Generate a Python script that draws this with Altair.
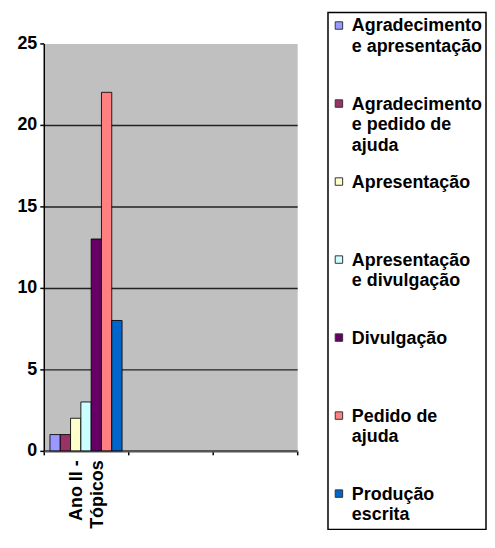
import altair as alt
import pandas as pd

# ---- data ----
x_categories = ["Ano II - Tópicos", " ", "  "]
series = [
    "Agradecimento e apresentação",
    "Agradecimento e pedido de ajuda",
    "Apresentação",
    "Apresentação e divulgação",
    "Divulgação",
    "Pedido de ajuda",
    "Produção escrita",
]
values = [1, 1, 2, 3, 13, 22, 8]
colors = ["#9999FF", "#993366", "#FFFFCC", "#CCFFFF", "#660066", "#FF8080", "#0066CC"]
legend_labels = [
    "Agradecimento|e apresentação",
    "Agradecimento|e pedido de|ajuda",
    "Apresentação",
    "Apresentação|e divulgação",
    "Divulgação",
    "Pedido de|ajuda",
    "Produção|escrita",
]
y_ticks = [0, 5, 10, 15, 20, 25]

FONT = "Liberation Sans"

df = pd.DataFrame({
    "categoria": [x_categories[0]] * len(series),
    "serie": series,
    "valor": values,
})

color_scale = alt.Scale(domain=series, range=colors)

bars = alt.Chart(
    df,
    view=alt.ViewBackground(fill="#C0C0C0", stroke="transparent"),
).mark_bar(stroke="#000000", strokeWidth=1, strokeOpacity=0.85).encode(
    x=alt.X(
        "categoria:N",
        scale=alt.Scale(domain=x_categories, paddingInner=0, paddingOuter=0),
        axis=alt.Axis(
            title=None,
            labelAngle=-90,
            labelAlign="right",
            labelBaseline="middle",
            labelExpr="split(replace(datum.label, ' - ', ' -|'), '|')",
            labelFont=FONT,
            labelFontWeight="bold",
            labelFontSize=18,
            labelLineHeight=22,
            labelColor="#000000",
            labelPadding=5,
            labelOffset=-10,
            tickBand="extent",
            tickSize=4,
            tickColor="#000000",
            tickWidth=1.5,
            domainColor="#555555",
            domainWidth=2.5,
            grid=False,
        ),
    ),
    xOffset=alt.XOffset(
        "serie:N",
        scale=alt.Scale(domain=series, paddingInner=0, paddingOuter=0.6),
    ),
    y=alt.Y(
        "valor:Q",
        scale=alt.Scale(domain=[0, 25], nice=False),
        axis=alt.Axis(
            title=None,
            values=y_ticks,
            labelFont=FONT,
            labelFontWeight="bold",
            labelFontSize=18,
            labelColor="#000000",
            labelPadding=3,
            tickSize=4,
            tickColor="#000000",
            tickWidth=1.5,
            domainColor="#000000",
            domainWidth=1.5,
            grid=True,
            gridColor="#222222",
            gridWidth=1.5,
            gridOpacity={"condition": {"test": "datum.value === 25 || datum.value === 0", "value": 0}, "value": 1},
        ),
    ),
    color=alt.Color("serie:N", scale=color_scale, legend=None),
).properties(width=255, height=410)

# invisible spacer so the plot area starts lower than the legend box
spacer = alt.Chart(
    pd.DataFrame({"v": [0]}),
    view=alt.ViewBackground(fill="transparent", stroke="transparent"),
).mark_point(opacity=0, size=4).encode(x=alt.value(100), y=alt.value(8)).properties(width=255, height=20)

left = alt.vconcat(spacer, bars, spacing=0)

leg_df = pd.DataFrame({"serie": series, "label": legend_labels})
leg_y = alt.Y("serie:N", scale=alt.Scale(type="point", domain=series, range=[13, 484], padding=0), axis=None)

swatches = alt.Chart(leg_df).mark_square(size=56, stroke="#333333", strokeWidth=1, opacity=1).encode(
    x=alt.value(11),
    y=leg_y,
    color=alt.Color("serie:N", scale=color_scale, legend=None),
)
texts = alt.Chart(leg_df).mark_text(
    align="left", baseline="top", dy=-8, lineBreak="|",
    font=FONT, fontWeight="bold", fontSize=18, lineHeight=21, color="#000000",
).encode(
    x=alt.value(24),
    y=leg_y,
    text="label:N",
)
legend = alt.layer(swatches, texts, view=alt.ViewBackground(fill="white", stroke="#000000", strokeWidth=1.5)).properties(
    width=159, height=520
)

chart = alt.hconcat(left, legend, spacing=28).properties(
    padding={"left": 8, "top": 2, "right": 0, "bottom": 0}
).configure(background="white")

chart.save("out.html", embed_options={"renderer": "svg", "actions": False})
